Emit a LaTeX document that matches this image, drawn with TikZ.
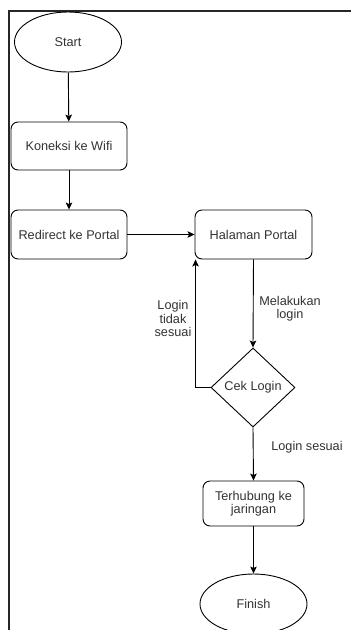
\documentclass[tikz,border=0pt]{standalone}
\usepackage{fontspec}
\setmainfont{Liberation Sans}
\usetikzlibrary{shapes.geometric,arrows.meta}
\definecolor{txt}{HTML}{333333}
\tikzset{
  box/.style={draw=black, line width=0.9pt, rounded corners=7pt, inner sep=0pt,
    align=center, text=txt, font=\fontsize{12.7}{13.5}\selectfont},
  terminal/.style={draw=black, line width=0.9pt, ellipse, inner sep=0pt,
    minimum width=107pt, minimum height=60pt, text=txt,
    font=\fontsize{12.7}{13.5}\selectfont},
  decision/.style={draw=black, line width=0.9pt, diamond, inner sep=0pt,
    minimum width=84pt, minimum height=79pt, text=txt,
    font=\fontsize{12.7}{13.5}\selectfont},
  flow/.style={draw=black, line width=0.9pt,
    -{Stealth[length=7pt,width=6.5pt,inset=1.5pt]}},
  lbl/.style={align=center, text=txt, inner sep=0pt,
    font=\fontsize{12.7}{13.2}\selectfont}
}
\begin{document}
\begin{tikzpicture}[x=1pt,y=-1pt]
  \useasboundingbox (0,0) rectangle (351,630);
  \fill[white] (0,0) rectangle (351,630);
  % page frame on the left and top
  \draw[line width=2pt, black!85] (9,631) -- (9,11) -- (352,11);

  % nodes
  \node[terminal] (start) at (68,42) {Start};
  \node[box, minimum width=116pt, minimum height=48pt] (wifi) at (69,146) {Koneksi ke Wifi};
  \node[box, minimum width=116pt, minimum height=49pt] (redir) at (69,234.5) {Redirect ke Portal};
  \node[box, minimum width=117pt, minimum height=49pt] (hal) at (253.5,234.5) {Halaman Portal};
  \node[decision] (cek) at (253,387.5) {Cek Login};
  \node[box, minimum width=101pt, minimum height=45pt] (hub) at (253.5,503.5) {Terhubung ke\\jaringan};
  \node[terminal] (fin) at (253.5,604) {Finish};

  % connectors
  \draw[flow] (start) -- (wifi);
  \draw[flow] (wifi) -- (redir);
  \draw[flow] (redir) -- (hal);
  \draw[flow] (hal.south) -- (cek.north);
  \draw[flow] (cek.west) -| ([xshift=1pt]hal.south west);
  \draw[flow] (cek.south) -- (hub.north);
  \draw[flow] (hub.south) -- (fin.north);

  % connector labels
  \node[lbl] (lgagal) at (173,318.5) {Login\\tidak\\sesuai};
  \node[lbl] (lkuk) at (290,309) {Melakukan\\login};
  \node[lbl] (lok) at (307,447) {Login sesuai};
\end{tikzpicture}
\end{document}
